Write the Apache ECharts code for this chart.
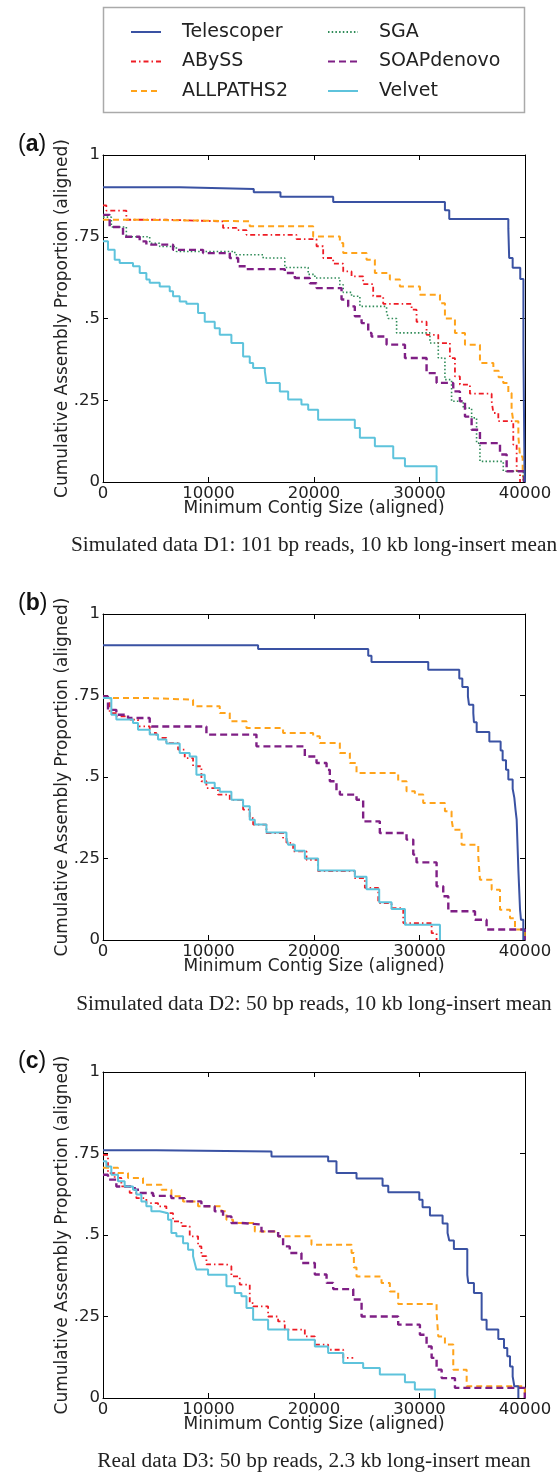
<!DOCTYPE html>
<html><head><meta charset="utf-8">
<script src="https://cdn.jsdelivr.net/npm/echarts@6/dist/echarts.min.js"></script>
<style>html,body{margin:0;padding:0;background:#fff}#c{width:560px;height:1472px}</style>
</head><body><div id="c"></div>
<script>
// ---------- data ----------
const seriesNames = ['Telescoper','ABySS','ALLPATHS2','SGA','SOAPdenovo','Velvet'];
const xTicks = [0, 10000, 20000, 30000, 40000];
const yTickValues = [0, 0.25, 0.5, 0.75, 1];
const yTickLabels = ['0', '.25', '.5', '.75', '1'];
const captions = [
  'Simulated data D1: 101 bp reads, 10 kb long-insert mean',
  'Simulated data D2: 50 bp reads, 10 kb long-insert mean',
  'Real data D3: 50 bp reads, 2.3 kb long-insert mean'
];
const panelLetters = ['a','b','c'];

// Panel (a) D1
const d1_telescoper = [[0,0.901],[7270,0.896],[14290,0.886],[16820,0.872],[21820,0.856],[32410,0.831],[32820,0.804],[38420,0.774],[38500,0.685],[38830,0.655],[39550,0.621],[39850,0.40],[39950,0.05],[40000,0]];
const d1_abyss = [[0,0.846],[316,0.83],[2213,0.802],[6008,0.797],[11380,0.777],[12650,0.770],[13600,0.756],[18340,0.743],[20240,0.721],[20870,0.685],[21820,0.668],[22770,0.644],[23560,0.629],[24660,0.605],[25610,0.568],[26560,0.545],[29250,0.527],[29720,0.49],[30670,0.45],[31780,0.425],[32880,0.379],[33360,0.323],[33830,0.298],[34780,0.27],[36840,0.247],[37000,0.211],[37470,0.186],[38890,0.114],[39210,0.033],[39530,0]];
const d1_allpaths = [[0,0.802],[3000,0.80],[8000,0.797],[13910,0.782],[19920,0.751],[22450,0.731],[22770,0.70],[24980,0.68],[25770,0.639],[27190,0.619],[28140,0.598],[30040,0.573],[31940,0.547],[32410,0.50],[33360,0.456],[34310,0.42],[35730,0.364],[37000,0.34],[37500,0.32],[37940,0.303],[38420,0.272],[38730,0.221],[38890,0.186],[39370,0.14],[39530,0.078],[39780,0.033],[39900,0]];
const d1_sga = [[0,0.81],[790,0.78],[2213,0.75],[4427,0.73],[5375,0.72],[6956,0.705],[12490,0.695],[15180,0.685],[17230,0.656],[19450,0.635],[20080,0.624],[22450,0.603],[22770,0.58],[23560,0.568],[24350,0.537],[26880,0.52],[27040,0.50],[27830,0.456],[30990,0.425],[31780,0.379],[32410,0.313],[33040,0.247],[34150,0.226],[34940,0.196],[35410,0.119],[35730,0.063],[37940,0.033],[39840,0]];
const d1_soap = [[0,0.817],[632,0.78],[1897,0.75],[3478,0.736],[4110,0.726],[6640,0.71],[9486,0.70],[12016,0.685],[12810,0.66],[13600,0.651],[17230,0.639],[18180,0.624],[19600,0.608],[20240,0.593],[22610,0.558],[23240,0.537],[23870,0.507],[24510,0.486],[25140,0.456],[25450,0.445],[26880,0.42],[28620,0.379],[30670,0.333],[31620,0.303],[33200,0.277],[33830,0.247],[34310,0.2],[34940,0.16],[35730,0.119],[37630,0.084],[38260,0.033],[39900,0]];
const d1_velvet = [[0,0.736],[474,0.71],[1107,0.68],[1581,0.67],[2846,0.66],[3478,0.639],[4110,0.619],[4427,0.609],[5375,0.598],[6324,0.583],[6640,0.568],[7270,0.552],[7905,0.545],[9010,0.517],[9644,0.49],[10590,0.47],[11067,0.45],[12170,0.425],[13280,0.384],[13910,0.364],[14230,0.349],[15340,0.338],[15490,0.303],[16760,0.277],[17550,0.252],[18810,0.237],[19450,0.221],[20390,0.19],[23870,0.165],[24350,0.135],[25770,0.109],[27510,0.073],[28620,0.048],[31620,0]];

// Panel (b) D2
const d2_telescoper = [[0,0.904],[14700,0.893],[25140,0.872],[25450,0.853],[30830,0.829],[33770,0.802],[34060,0.776],[34590,0.747],[34690,0.722],[35100,0.696],[35160,0.668],[35420,0.638],[36620,0.609],[37690,0.581],[37880,0.551],[38200,0.522],[38420,0.492],[38830,0.464],[38990,0.436],[39100,0.40],[39210,0.369],[39370,0.216],[39530,0.093],[39620,0.062],[39840,0]];
const d2_abyss = [[0,0.747],[632,0.696],[1265,0.686],[2371,0.676],[3320,0.655],[4427,0.635],[5059,0.62],[6008,0.604],[7115,0.584],[7747,0.558],[8537,0.533],[9328,0.487],[9802,0.466],[10900,0.446],[12016,0.43],[13280,0.40],[13910,0.374],[14230,0.354],[15490,0.328],[17070,0.313],[17390,0.298],[18020,0.272],[19290,0.246],[20390,0.211],[23870,0.19],[24820,0.16],[26090,0.113],[27350,0.098],[28460,0.052],[31150,0.021],[31620,0]];
const d2_allpaths = [[0,0.742],[4427,0.737],[8537,0.717],[11067,0.696],[12016,0.671],[13600,0.65],[17070,0.635],[19920,0.625],[20550,0.604],[22450,0.574],[23400,0.543],[24030,0.512],[27980,0.487],[28770,0.456],[29560,0.446],[30350,0.42],[32410,0.395],[33040,0.369],[33200,0.338],[33990,0.292],[35570,0.257],[35730,0.185],[36840,0.154],[37630,0.093],[38580,0.067],[39050,0.032],[39980,0]];
const d2_soap = [[0,0.747],[474,0.706],[1265,0.691],[2371,0.681],[4427,0.666],[4585,0.655],[9802,0.63],[14545,0.594],[19130,0.563],[20240,0.543],[21190,0.522],[21500,0.487],[22130,0.456],[22450,0.446],[24030,0.43],[24660,0.364],[26240,0.328],[28770,0.308],[29410,0.262],[29720,0.238],[31620,0.165],[32250,0.134],[32730,0.088],[35260,0.062],[36360,0.032],[39980,0]];
const d2_velvet = [[0,0.742],[790,0.691],[1265,0.676],[2846,0.666],[3320,0.645],[4427,0.63],[5217,0.615],[6008,0.603],[7270,0.574],[8220,0.563],[8854,0.507],[9644,0.482],[10590,0.466],[11070,0.455],[12170,0.43],[13280,0.41],[13910,0.369],[14390,0.354],[15490,0.33],[17390,0.313],[17550,0.292],[18180,0.274],[19130,0.25],[20390,0.213],[23870,0.194],[24980,0.156],[26180,0.116],[27350,0.095],[28620,0.047],[31940,0]];

// Panel (c) D3
const d3_telescoper = [[0,0.76],[5059,0.756],[15970,0.741],[21340,0.726],[22130,0.69],[24030,0.673],[26500,0.651],[27040,0.631],[29980,0.608],[30290,0.585],[30990,0.56],[32190,0.535],[32660,0.506],[32820,0.483],[33260,0.457],[34530,0.378],[34620,0.353],[35160,0.322],[35890,0.24],[36360,0.21],[37470,0.181],[38010,0.153],[38320,0.128],[38580,0.097],[38830,0.066],[38990,0.036],[39370,0]];
const d3_abyss = [[0,0.746],[474,0.69],[1107,0.675],[1739,0.649],[2530,0.629],[3162,0.613],[4110,0.598],[5217,0.588],[6008,0.567],[6640,0.542],[7430,0.527],[8220,0.496],[9010,0.465],[9328,0.435],[9802,0.41],[11700,0.404],[12170,0.373],[12960,0.348],[13910,0.291],[14230,0.281],[15650,0.25],[16600,0.235],[17230,0.21],[19130,0.189],[20080,0.164],[21340,0.148],[22770,0.123],[23720,0.123]];
const d3_allpaths = [[0,0.706],[1423,0.69],[2371,0.675],[3794,0.654],[5534,0.639],[6482,0.619],[7590,0.603],[9010,0.588],[11225,0.573],[11700,0.547],[12330,0.537],[14390,0.511],[16600,0.496],[19760,0.47],[23560,0.445],[23780,0.40],[24030,0.373],[26400,0.353],[27190,0.327],[27980,0.288],[31620,0.261],[31780,0.189],[32410,0.164],[33200,0.087],[34470,0.036],[39980,0]];
const d3_soap = [[0,0.685],[474,0.67],[1265,0.649],[3004,0.639],[3478,0.629],[4743,0.62],[6482,0.613],[7747,0.603],[9328,0.588],[10590,0.573],[11380,0.557],[12170,0.537],[13120,0.532],[15020,0.511],[16600,0.496],[17070,0.465],[17700,0.445],[18810,0.414],[20080,0.379],[21190,0.353],[21820,0.334],[23720,0.302],[24510,0.25],[27980,0.225],[30040,0.194],[30670,0.158],[31150,0.123],[31620,0.087],[32100,0.061],[33360,0.031],[39980,0]];
const d3_velvet = [[0,0.726],[316,0.71],[790,0.685],[1423,0.665],[2055,0.649],[2846,0.639],[3162,0.624],[3636,0.603],[4110,0.588],[4585,0.573],[5375,0.567],[6166,0.547],[6482,0.506],[6956,0.496],[7590,0.475],[8063,0.455],[8537,0.435],[8696,0.414],[8854,0.394],[9960,0.378],[11700,0.343],[12490,0.322],[13120,0.312],[13600,0.276],[14230,0.24],[15650,0.21],[17550,0.179],[20080,0.158],[21340,0.138],[22770,0.107],[24660,0.092],[26240,0.072],[28620,0.048],[29560,0.026],[31460,0]];

// ---------- styling ----------
const styles = {
  'Telescoper': {color:'#3a52a3', type:'solid', width:2},
  'ABySS':      {color:'#ee1c25', type:[5,3,1.5,3], width:1.8},
  'ALLPATHS2':  {color:'#ffa31a', type:[6,4], width:2},
  'SGA':        {color:'#2e8b57', type:[1.5,2.2], width:1.6},
  'SOAPdenovo': {color:'#7f1f85', type:[7,4], width:2.4},
  'Velvet':     {color:'#5ec3dc', type:'solid', width:2}
};
const panels = [
  {top:155, height:327, series:[['Telescoper',d1_telescoper],['ABySS',d1_abyss],['ALLPATHS2',d1_allpaths],['SGA',d1_sga],['SOAPdenovo',d1_soap],['Velvet',d1_velvet]], capY:545},
  {top:614, height:326, series:[['Telescoper',d2_telescoper],['ABySS',d2_abyss],['ALLPATHS2',d2_allpaths],['SOAPdenovo',d2_soap],['Velvet',d2_velvet]], capY:1004},
  {top:1072, height:326, series:[['Telescoper',d3_telescoper],['ABySS',d3_abyss],['ALLPATHS2',d3_allpaths],['SOAPdenovo',d3_soap],['Velvet',d3_velvet]], capY:1461}
];

const FONT = 'DejaVu Sans';
const TXT = '#222';
const grids = [], xAxes = [], yAxes = [], series = [], graphics = [];

panels.forEach((p, i) => {
  grids.push({left:103, top:p.top, width:422, height:p.height, show:false});
  const tick = {show:true, inside:true, length:5, lineStyle:{color:'#000', width:1}};
  const line = {show:true, onZero:false, lineStyle:{color:'#000', width:1}};
  xAxes.push({type:'value', gridIndex:i, position:'bottom', min:xTicks[0], max:xTicks[xTicks.length-1], interval:xTicks[1]-xTicks[0],
    axisLine:line, axisTick:tick, splitLine:{show:false},
    axisLabel:{show:true, margin:3, fontFamily:FONT, fontSize:16.5, color:TXT, formatter:v=>String(v)},
    name:'Minimum Contig Size (aligned)', nameLocation:'middle', nameGap:18, nameMoveOverlap:false,
    nameTextStyle:{fontFamily:FONT, fontSize:17, color:TXT}});
  xAxes.push({type:'value', gridIndex:i, position:'top', min:xTicks[0], max:xTicks[xTicks.length-1], interval:xTicks[1]-xTicks[0],
    axisLine:line, axisTick:tick, splitLine:{show:false}, axisLabel:{show:false}});
  yAxes.push({type:'value', gridIndex:i, position:'left', min:0, max:1, interval:0.25,
    axisLine:line, axisTick:tick, splitLine:{show:false},
    axisLabel:{show:true, margin:3, fontFamily:FONT, fontSize:16.5, color:TXT,
      formatter:v=>{const k=yTickValues.findIndex(t=>Math.abs(t-v)<1e-9); return k>=0?yTickLabels[k]:'';}},
    name:'Cumulative Assembly Proportion (aligned)', nameLocation:'middle', nameGap:32, nameMoveOverlap:false,
    nameTextStyle:{fontFamily:FONT, fontSize:17, color:TXT}});
  yAxes.push({type:'value', gridIndex:i, position:'right', min:0, max:1, interval:0.25,
    axisLine:line, axisTick:tick, splitLine:{show:false}, axisLabel:{show:false}});

  p.series.forEach(([name, data]) => {
    const s = styles[name];
    series.push({type:'line', name, data, xAxisIndex:2*i, yAxisIndex:2*i, step:'end',
      symbol:'none', showSymbol:false, silent:true, animation:false, clip:false,
      color:s.color, lineStyle:{color:s.color, type:s.type, width:s.width}, z: name==='Telescoper'?5:3});
  });

  graphics.push({type:'text', left:18, top:p.top - 22,
    style:{text:'{p|(}{b|' + panelLetters[i] + '}{p|)}', rich:{
      p:{fontFamily:'Liberation Sans', fontSize:23, fill:'#111'},
      b:{fontFamily:'Liberation Sans', fontSize:23, fontWeight:'bold', fill:'#111'}}}});
  graphics.push({type:'text', x:314, y:p.capY,
    style:{text:captions[i], fontFamily:'Liberation Serif', fontSize:21.3, fill:'#222', align:'center', verticalAlign:'middle'}});
});

graphics.push({type:'rect', shape:{x:103.5, y:7.5, width:421, height:105},
  style:{fill:'none', stroke:'#aaaaaa', lineWidth:1.5}, z:-1});

const legendCommon = {orient:'vertical', padding:0, itemWidth:30, itemHeight:14, itemGap:9.5, selectedMode:false,
  itemStyle:{opacity:0},
  textStyle:{fontFamily:FONT, fontSize:19, color:TXT, lineHeight:20, padding:[0,0,0,16]}};

const option = {
  animation:false,
  backgroundColor:'#fff',
  grid:grids, xAxis:xAxes, yAxis:yAxes, series,
  legend:[
    Object.assign({}, legendCommon, {data:seriesNames.slice(0,3), left:130, top:22}),
    Object.assign({}, legendCommon, {data:seriesNames.slice(3,6), left:327, top:22})
  ],
  graphic:graphics
};
const chart = echarts.init(document.getElementById('c'), null, {renderer:'canvas'});
chart.setOption(option);
</script></body></html>
